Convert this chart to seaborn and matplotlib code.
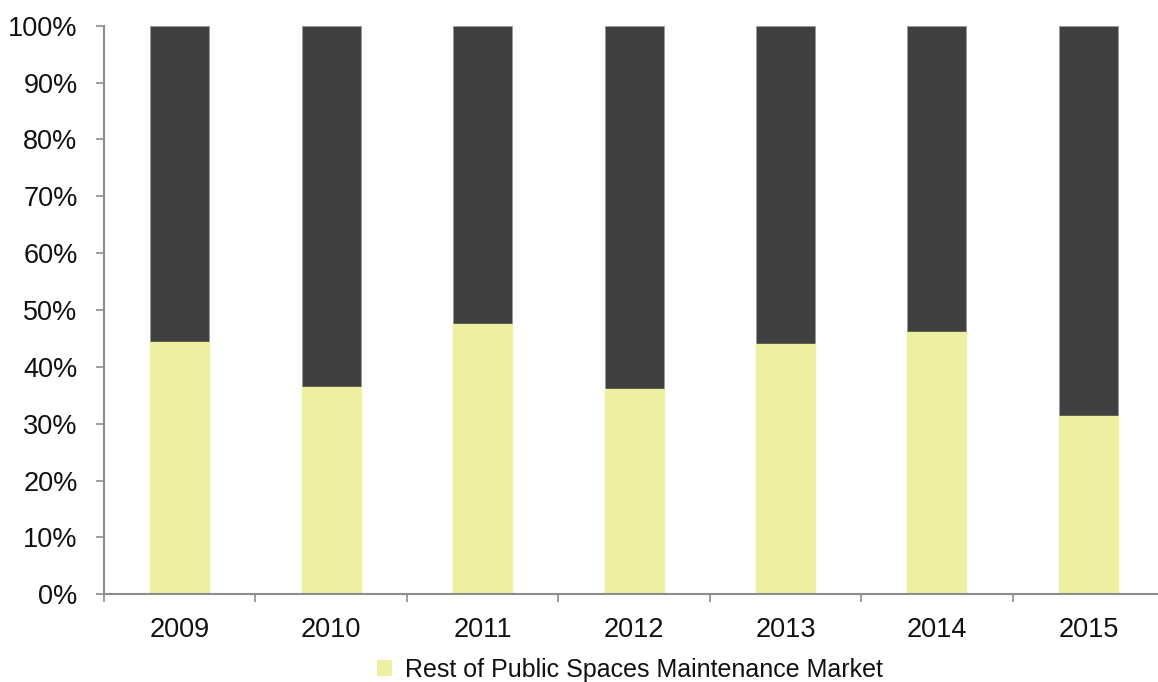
import numpy as np
import pandas as pd
import matplotlib
matplotlib.use("Agg")
import matplotlib.pyplot as plt
from matplotlib.patches import Patch
from matplotlib.ticker import FixedLocator, PercentFormatter
import seaborn as sns

years = ["2009", "2010", "2011", "2012", "2013", "2014", "2015"]
rest_share = [44.3, 36.4, 47.5, 36.1, 44.1, 46.1, 31.4]
total_share = [100, 100, 100, 100, 100, 100, 100]
legend_label = "Rest of Public Spaces Maintenance Market"

dark = "#404040"
yellow = "#ECF0A0"
axis_grey = "#8c8c8c"

sns.set_theme(style="white")
plt.rcParams["font.family"] = ["Liberation Sans", "DejaVu Sans"]

df = pd.DataFrame({"year": years, "rest": rest_share, "total": total_share})

fig = plt.figure(figsize=(11.58, 6.82), dpi=100)
ax = fig.add_axes([0.0898, 0.1286, 0.9155, 0.8337])

# full-height dark bars, with the yellow share stacked over their lower part
sns.barplot(data=df, x="year", y="total", order=years, color=dark,
            saturation=1, width=0.39, ax=ax, edgecolor="#9a9a9a", linewidth=0.6)
sns.barplot(data=df, x="year", y="rest", order=years, color=yellow,
            saturation=1, width=0.39, ax=ax, edgecolor=yellow, linewidth=1.0)

ax.set_xlim(-0.5, len(years) - 0.5)
ax.set_ylim(0, 100)
ax.set_xlabel("")
ax.set_ylabel("")

ax.yaxis.set_major_locator(FixedLocator(np.arange(0, 101, 10)))
ax.yaxis.set_major_formatter(PercentFormatter(decimals=0))
ax.xaxis.set_minor_locator(FixedLocator(np.arange(-0.5, len(years), 1.0)))

ax.tick_params(axis="y", which="major", left=True, length=6, width=1.2,
               color=axis_grey, labelsize=19.5, labelcolor="#111111", pad=13)
ax.tick_params(axis="x", which="major", bottom=True, length=0,
               labelsize=19.5, labelcolor="#111111", pad=16)
ax.tick_params(axis="x", which="minor", bottom=True, length=6, width=1.2,
               color=axis_grey)

for side in ["top", "right"]:
    ax.spines[side].set_visible(False)
for side in ["left", "bottom"]:
    ax.spines[side].set_color(axis_grey)
    ax.spines[side].set_linewidth(1.5)

handle = Patch(facecolor=yellow, edgecolor="none")
fig.legend([handle], [legend_label], loc="center", bbox_to_anchor=(0.544, 0.018),
           frameon=False, fontsize=18, handlelength=0.6, handleheight=0.6,
           handletextpad=0.5, labelcolor="#111111")

fig.savefig("out.png", dpi=100)
